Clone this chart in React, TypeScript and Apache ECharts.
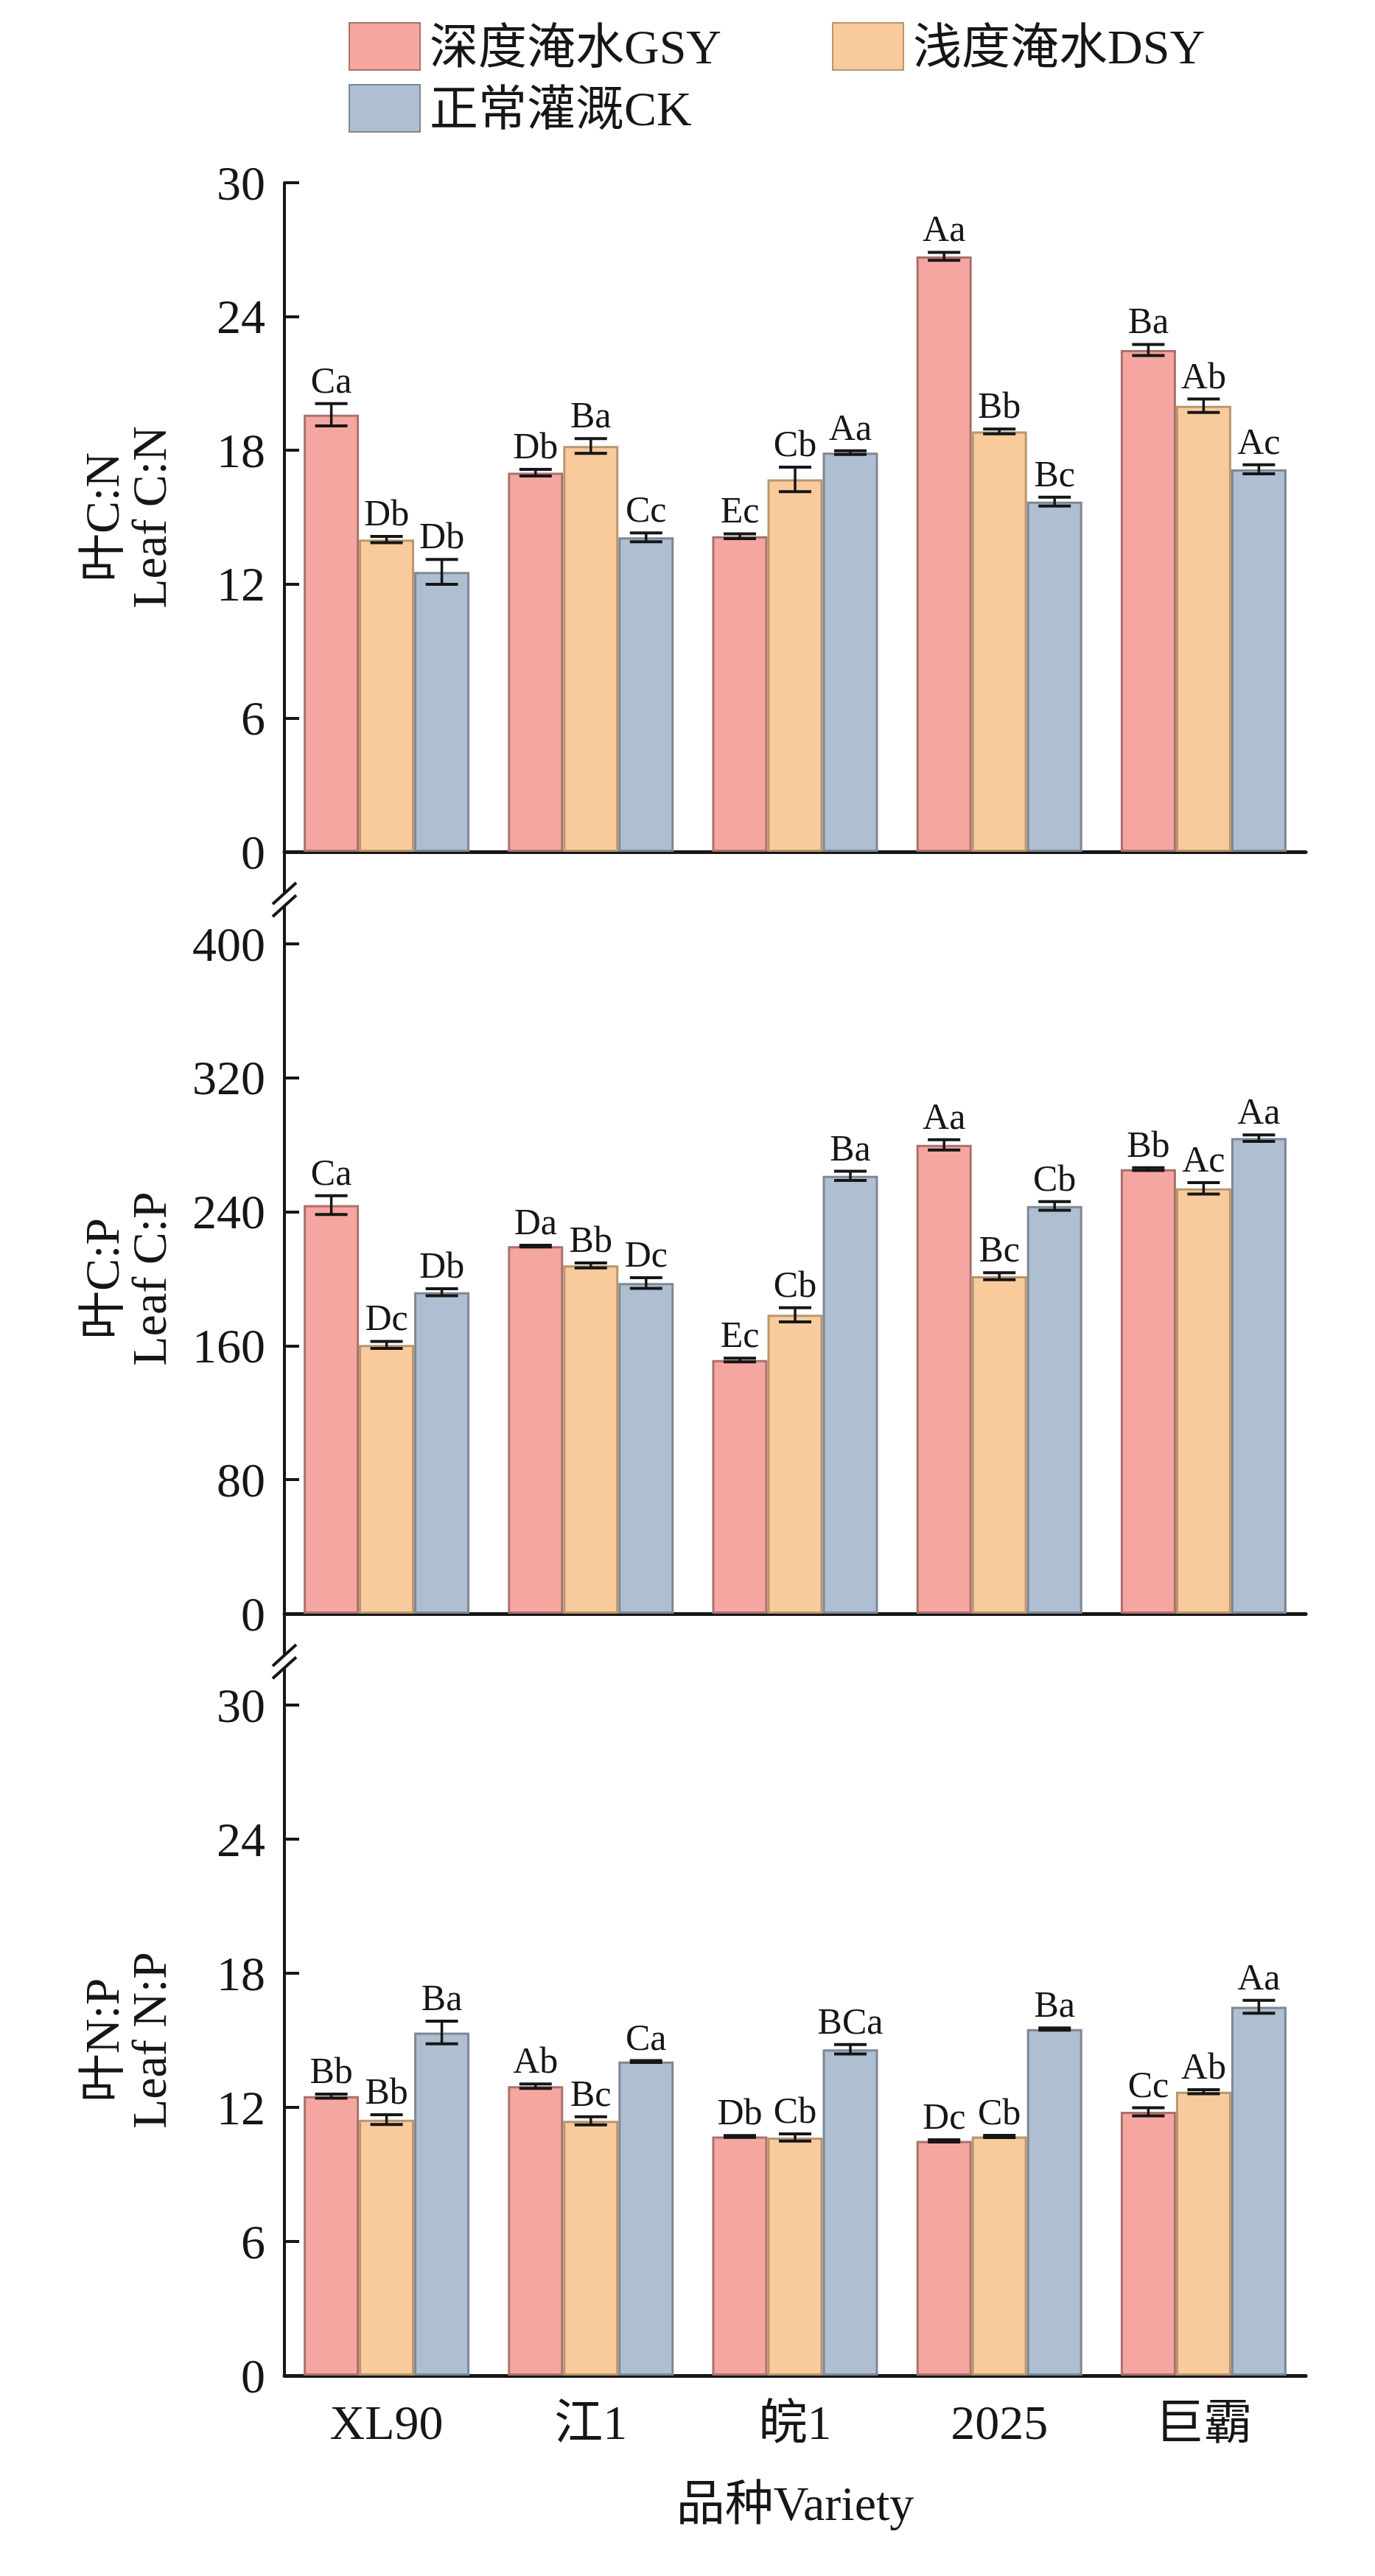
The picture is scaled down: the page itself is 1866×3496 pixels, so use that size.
import React, { useEffect, useRef } from "react";
import * as echarts from "echarts";

const categories = ["XL90", "江1", "皖1", "2025", "巨霸"];
const treatments = ["深度淹水GSY", "浅度淹水DSY", "正常灌溉CK"];

// Leaf C:N
const cnGSY = [19.6, 17.0, 14.15, 26.7, 22.5];
const cnGSYErr = [0.5, 0.15, 0.11, 0.18, 0.25];
const cnGSYLab = ["Ca", "Db", "Ec", "Aa", "Ba"];
const cnDSY = [14.0, 18.2, 16.7, 18.85, 20.0];
const cnDSYErr = [0.14, 0.33, 0.55, 0.11, 0.3];
const cnDSYLab = ["Db", "Ba", "Cb", "Bb", "Ab"];
const cnCK = [12.55, 14.1, 17.9, 15.7, 17.15];
const cnCKErr = [0.56, 0.2, 0.08, 0.2, 0.2];
const cnCKLab = ["Db", "Cc", "Aa", "Bc", "Ac"];

// Leaf C:P
const cpGSY = [244, 219.5, 151.5, 280, 265.5];
const cpGSYErr = [5.6, 0.5, 1.1, 3.1, 0.8];
const cpGSYLab = ["Ca", "Da", "Ec", "Aa", "Bb"];
const cpDSY = [160.5, 208, 178.5, 201.5, 254];
const cpDSYErr = [2.1, 1.5, 4.2, 2.1, 3.4];
const cpDSYLab = ["Dc", "Bb", "Cb", "Bc", "Ac"];
const cpCK = [192, 197.5, 261.5, 243.5, 284];
const cpCKErr = [2.1, 3.2, 2.7, 2.6, 1.9];
const cpCKLab = ["Db", "Dc", "Ba", "Cb", "Aa"];

// Leaf N:P
const npGSY = [12.5, 12.95, 10.7, 10.5, 11.8];
const npGSYErr = [0.09, 0.1, 0.04, 0.05, 0.18];
const npGSYLab = ["Bb", "Ab", "Db", "Dc", "Cc"];
const npDSY = [11.45, 11.4, 10.65, 10.7, 12.7];
const npDSYErr = [0.22, 0.18, 0.16, 0.05, 0.09];
const npDSYLab = ["Bb", "Bc", "Cb", "Cb", "Ab"];
const npCK = [15.35, 14.05, 14.6, 15.5, 16.5];
const npCKErr = [0.51, 0.04, 0.21, 0.05, 0.29];
const npCKLab = ["Ba", "Ca", "BCa", "Ba", "Aa"];

const panelNames = ["叶C:N\nLeaf C:N", "叶C:P\nLeaf C:P", "叶N:P\nLeaf N:P"];
const panelMax = [30, 400, 30];
const panelInterval = [6, 80, 6];
const xAxisTitle = "品种Variety";

const FONT = "'Liberation Serif', 'Noto Sans CJK SC', serif";
const INK = "#161616";
const fills = ["#F6A6A0", "#F9CB9C", "#AEBFD1"];
const borders = ["#A9716E", "#B8966E", "#7E8795"];

const AXIS_X = 386;
const GRID_LEFT = 386;
const GRID_W = 1386;
const GRID_TOP = [248, 1281, 2314];
const GRID_H = [908, 909, 910];
const BAR_W = 75;

export default function App() {
  const ref = useRef<HTMLDivElement>(null);

  useEffect(() => {
    document.body.style.margin = "0";
    if (!ref.current) return;
    const chart = echarts.init(ref.current, null, { renderer: "svg" });

    const panels = [
      {
        vals: [cnGSY, cnDSY, cnCK],
        errs: [cnGSYErr, cnDSYErr, cnCKErr],
        labs: [cnGSYLab, cnDSYLab, cnCKLab],
      },
      {
        vals: [cpGSY, cpDSY, cpCK],
        errs: [cpGSYErr, cpDSYErr, cpCKErr],
        labs: [cpGSYLab, cpDSYLab, cpCKLab],
      },
      {
        vals: [npGSY, npDSY, npCK],
        errs: [npGSYErr, npDSYErr, npCKErr],
        labs: [npGSYLab, npDSYLab, npCKLab],
      },
    ];

    const grids = GRID_TOP.map((t, i) => ({
      left: GRID_LEFT,
      top: t,
      width: GRID_W,
      height: GRID_H[i],
      containLabel: false,
    }));

    const xAxes = GRID_TOP.map((_, i) => ({
      type: "category",
      gridIndex: i,
      data: categories,
      axisLine: { show: true, lineStyle: { color: INK, width: 5 } },
      axisTick: { show: false },
      axisLabel: {
        show: i === 2,
        fontFamily: FONT,
        fontSize: 66,
        color: INK,
        margin: 30,
      },
      name: i === 2 ? xAxisTitle : "",
      nameLocation: "middle",
      nameGap: 140,
      nameTextStyle: { fontFamily: FONT, fontSize: 66, color: INK },
    }));

    const yAxes = GRID_TOP.map((_, i) => ({
      type: "value",
      gridIndex: i,
      min: 0,
      max: panelMax[i],
      interval: panelInterval[i],
      splitLine: { show: false },
      axisLine: { show: true, lineStyle: { color: INK, width: 4 } },
      axisTick: { show: true, inside: true, length: 20, lineStyle: { color: INK, width: 4 } },
      axisLabel: { fontFamily: FONT, fontSize: 66, color: INK, margin: 26 },
      name: panelNames[i],
      nameLocation: "middle",
      nameRotate: 90,
      nameGap: 152,
      nameTextStyle: { fontFamily: FONT, fontSize: 66, lineHeight: 64, color: INK },
    }));

    const series: any[] = [];
    panels.forEach((p, gi) => {
      treatments.forEach((name, ti) => {
        series.push({
          type: "bar",
          name,
          xAxisIndex: gi,
          yAxisIndex: gi,
          data: p.vals[ti],
          barWidth: BAR_W,
          barGap: "0%",
          itemStyle: { color: fills[ti], borderColor: borders[ti], borderWidth: 3 },
          emphasis: { disabled: true },
        });
      });
      treatments.forEach((name, ti) => {
        const offset = (ti - 1) * BAR_W;
        const labs = p.labs[ti];
        series.push({
          type: "custom",
          name: name + "-err",
          xAxisIndex: gi,
          yAxisIndex: gi,
          z: 5,
          data: p.vals[ti].map((v, k) => [k, v, p.errs[ti][k]]),
          renderItem: (params: any, api: any) => {
            const k = api.value(0);
            const v = api.value(1);
            const e = api.value(2);
            const c = api.coord([k, v]);
            const t = api.coord([k, v + e]);
            const b = api.coord([k, v - e]);
            const x = c[0] + offset;
            const cap = 22;
            return {
              type: "group",
              children: [
                { type: "line", shape: { x1: x, y1: t[1], x2: x, y2: b[1] }, style: { stroke: INK, lineWidth: 3.5 } },
                { type: "line", shape: { x1: x - cap, y1: t[1], x2: x + cap, y2: t[1] }, style: { stroke: INK, lineWidth: 4 } },
                { type: "line", shape: { x1: x - cap, y1: b[1], x2: x + cap, y2: b[1] }, style: { stroke: INK, lineWidth: 4 } },
                {
                  type: "text",
                  style: {
                    text: labs[params.dataIndex],
                    x,
                    y: t[1] - 7,
                    align: "center",
                    verticalAlign: "bottom",
                    textAlign: "center",
                    textVerticalAlign: "bottom",
                    fontFamily: FONT,
                    fontSize: 50,
                    fill: INK,
                  },
                },
              ],
            };
          },
        });
      });
    });

    const graphics: any[] = [];
    [0, 1].forEach((i) => {
      const y0 = GRID_TOP[i] + GRID_H[i];
      const yNext = GRID_TOP[i + 1];
      const m = y0 + 65;
      graphics.push(
        { type: "line", shape: { x1: AXIS_X, y1: y0, x2: AXIS_X, y2: m - 9 }, style: { stroke: INK, lineWidth: 4 } },
        { type: "line", shape: { x1: AXIS_X, y1: m + 9, x2: AXIS_X, y2: yNext }, style: { stroke: INK, lineWidth: 4 } },
        { type: "line", shape: { x1: AXIS_X - 16, y1: m + 6, x2: AXIS_X + 16, y2: m - 23 }, style: { stroke: INK, lineWidth: 4 } },
        { type: "line", shape: { x1: AXIS_X - 16, y1: m + 23, x2: AXIS_X + 16, y2: m - 6 }, style: { stroke: INK, lineWidth: 4 } }
      );
    });

    const legendText = { fontFamily: FONT, fontSize: 66, color: INK, padding: [0, 0, 0, 8] };

    chart.setOption({
      animation: false,
      backgroundColor: "#ffffff",
      legend: [
        {
          data: [treatments[0], treatments[1]],
          left: 468,
          top: 25,
          itemWidth: 96,
          itemHeight: 64,
          itemGap: 150,
          icon: "rect",
          textStyle: legendText,
        },
        {
          data: [treatments[2]],
          left: 468,
          top: 109,
          itemWidth: 96,
          itemHeight: 64,
          icon: "rect",
          textStyle: legendText,
        },
      ],
      grid: grids,
      xAxis: xAxes,
      yAxis: yAxes,
      series,
      graphic: graphics,
    });

    return () => chart.dispose();
  }, []);

  return <div ref={ref} style={{ width: 1866, height: 3496 }} />;
}
